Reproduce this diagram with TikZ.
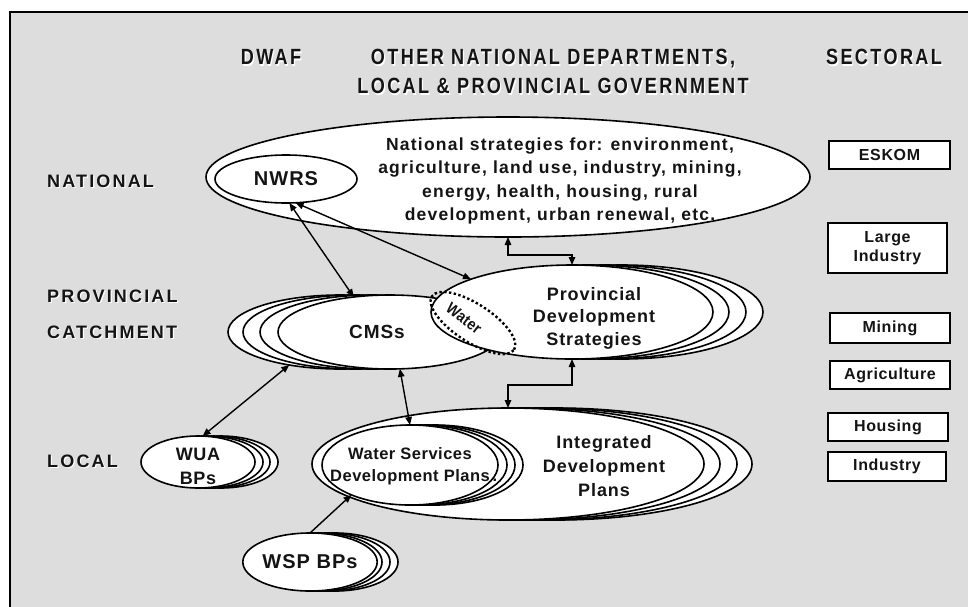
\documentclass[tikz,border=0pt]{standalone}
\usepackage{fontspec}
\setmainfont{Liberation Sans}
\usetikzlibrary{shapes.geometric,arrows.meta}
\definecolor{bg}{RGB}{221,221,221}
\definecolor{ink}{RGB}{20,20,20}
\newfontfamily\fhead{Liberation Sans}[FakeStretch=0.82,LetterSpace=11]
\newfontfamily\flab{Liberation Sans}[LetterSpace=12]
\newfontfamily\fbody{Liberation Sans}[LetterSpace=7]
\newfontfamily\fmid{Liberation Sans}[LetterSpace=5]
\newfontfamily\fnarrow{Liberation Sans}[LetterSpace=3]
\newfontfamily\fsect{Liberation Sans}[LetterSpace=4]
\newfontfamily\fwater{Liberation Sans}[FakeStretch=0.88,LetterSpace=2]
\newcommand\shd[1]{\leavevmode\rlap{\kern1.2pt\raisebox{-1.2pt}{\color{white}#1}}#1}
\tikzset{
  oval/.style={ellipse, draw=black, fill=white, line width=1.6pt, inner sep=0pt, outer sep=0pt, text=ink},
  sect/.style={rectangle, draw=black, fill=white, line width=1.5pt, inner sep=0pt, font=\fsect\bfseries\fontsize{16}{19.5}\selectfont, align=center, text=ink},
  lvl/.style={anchor=west, inner sep=0pt, font=\flab\bfseries\fontsize{18}{20}\selectfont, text=ink},
  hdr/.style={inner sep=0pt, font=\fhead\bfseries\fontsize{22}{29}\selectfont, align=center, text=ink},
  txt/.style={inner sep=0pt, align=center, text=ink},
  link/.style={line width=1.4pt, arrows={Triangle[length=8pt,width=6.5pt]-Triangle[length=8pt,width=6.5pt]}},
  oneway/.style={line width=1.4pt, arrows={-Triangle[length=8pt,width=6.5pt]}},
}
\begin{document}
\begin{tikzpicture}[x=1pt,y=-1pt]
\useasboundingbox (0,0) rectangle (968,606);
\clip (0,0) rectangle (968,606);
\fill[white] (0,0) rectangle (968,606);
\draw[line width=1.6pt, fill=bg] (10,12) rectangle (990,630);

% headers
\node[hdr] (hdwaf) at (271,58) {\shd{DWAF}};
\node[hdr] (hother) at (553,72.5) {\shd{OTHER NATIONAL DEPARTMENTS,}\\\shd{LOCAL \& PROVINCIAL GOVERNMENT}};
\node[hdr] (hsect) at (884,58) {\shd{SECTORAL}};

% level labels
\node[lvl] (lnat) at (47,182) {\shd{NATIONAL}};
\node[lvl] (lprov) at (47,297) {\shd{PROVINCIAL}};
\node[lvl] (lcatch) at (47,333) {\shd{CATCHMENT}};
\node[lvl] (lloc) at (47,462) {\shd{LOCAL}};

% national level
\node[oval, minimum width=604pt, minimum height=120pt] (nat) at (508,177) {};
\node[oval, minimum width=142pt, minimum height=48pt, font=\fmid\bfseries\fontsize{20}{22}\selectfont] (nwrs) at (286,179) {NWRS};
\node[txt, font=\fbody\bfseries\fontsize{17.5}{23.3}\selectfont] (natT) at (560,181)
  {National strategies for: environment,\\agriculture, land use, industry, mining,\\energy, health, housing, rural\\development, urban renewal, etc.};

% CMS stack
\foreach \d/\n in {50/3,35/2,18/1}
  \node[oval, minimum width=224pt, minimum height=74pt] (cms\n) at (390-\d,332) {};
\node[oval, minimum width=224pt, minimum height=74pt] (cms) at (390,332) {};
\node[txt, font=\fmid\bfseries\fontsize{19}{21}\selectfont] (cmsT) at (377,332) {CMSs};

% PDS stack
\foreach \d/\n in {50/3,33/2,16/1}
  \node[oval, minimum width=282pt, minimum height=94pt] (pds\n) at (572+\d,312) {};
\node[oval, minimum width=282pt, minimum height=94pt] (pds) at (572,312) {};
\node[txt, font=\fmid\bfseries\fontsize{18}{22.5}\selectfont] (pdsT) at (594,318) {Provincial\\Development\\Strategies};

% Water
\node[ellipse, draw=black, line width=2.4pt, dash pattern=on 2.4pt off 2.4pt, minimum width=98pt, minimum height=38pt,
  rotate=-33, inner sep=0pt, text=ink] (water) at (473,323) {};
\node[txt, rotate=-38, font=\fwater\bfseries\fontsize{16}{18}\selectfont] (waterT) at (464,318) {Water};

% IDP stack
\foreach \d/\n in {48/3,33/2,16/1}
  \node[oval, minimum width=392pt, minimum height=112pt] (idp\n) at (508+\d,464) {};
\node[oval, minimum width=392pt, minimum height=112pt] (idp) at (508,464) {};
\node[txt, font=\fmid\bfseries\fontsize{18}{24}\selectfont] (idpT) at (604,466) {Integrated\\Development\\Plans};

% WSDP stack
\foreach \d/\n in {25/3,17/2,9/1}
  \node[oval, minimum width=176pt, minimum height=80pt] (wsdp\n) at (410+\d,465) {};
\node[oval, minimum width=176pt, minimum height=80pt] (wsdp) at (410,465) {};
\node[txt, font=\fnarrow\bfseries\fontsize{16.5}{22}\selectfont] (wsdpT) at (410,466) {Water Services\\Development Plans\rlap{\,.}};

% WUA stack
\foreach \d/\n in {23/3,15/2,8/1}
  \node[oval, minimum width=114pt, minimum height=52pt] (wua\n) at (198+\d,462) {};
\node[oval, minimum width=114pt, minimum height=52pt] (wua) at (198,462) {};
\node[txt, font=\fsect\bfseries\fontsize{18}{24}\selectfont] (wuaT) at (198,466) {WUA\\BPs};

% WSP stack
\foreach \d/\n in {25/3,17/2,9/1}
  \node[oval, minimum width=126pt, minimum height=58pt] (wsp\n) at (310+\d,562) {};
\node[oval, minimum width=126pt, minimum height=58pt, font=\fmid\bfseries\fontsize{20}{22}\selectfont] (wsp) at (310,562) {WSP BPs};

% sector boxes
\node[sect, minimum width=121pt, minimum height=28pt] (eskom) at (889.5,155) {ESKOM};
\node[sect, minimum width=119pt, minimum height=50pt] (large) at (887.5,248) {Large\\Industry};
\node[sect, minimum width=120pt, minimum height=30pt] (mining) at (890,328) {Mining};
\node[sect, minimum width=120pt, minimum height=28pt] (agri) at (890,375) {Agriculture};
\node[sect, minimum width=120pt, minimum height=28pt] (housing) at (888,427) {Housing};
\node[sect, minimum width=118pt, minimum height=29pt] (industry) at (887,466.5) {Industry};

% connectors
\draw[link] (nwrs.-82) -- (cms.136);
\draw[link] (nwrs.-68) -- (pds.162);
\draw[link] (nat.south) -- ++(0,18) -| (pds.north);
\draw[link] (pds.south) -- ++(0,26) -| (idp.north);
\draw[link] (cms3.213) -- (wua.80);
\draw[link] (cms.-75) -- (wsdp.north);
\draw[oneway] (wsp.north) -- (wsdp.207);
\end{tikzpicture}
\end{document}
